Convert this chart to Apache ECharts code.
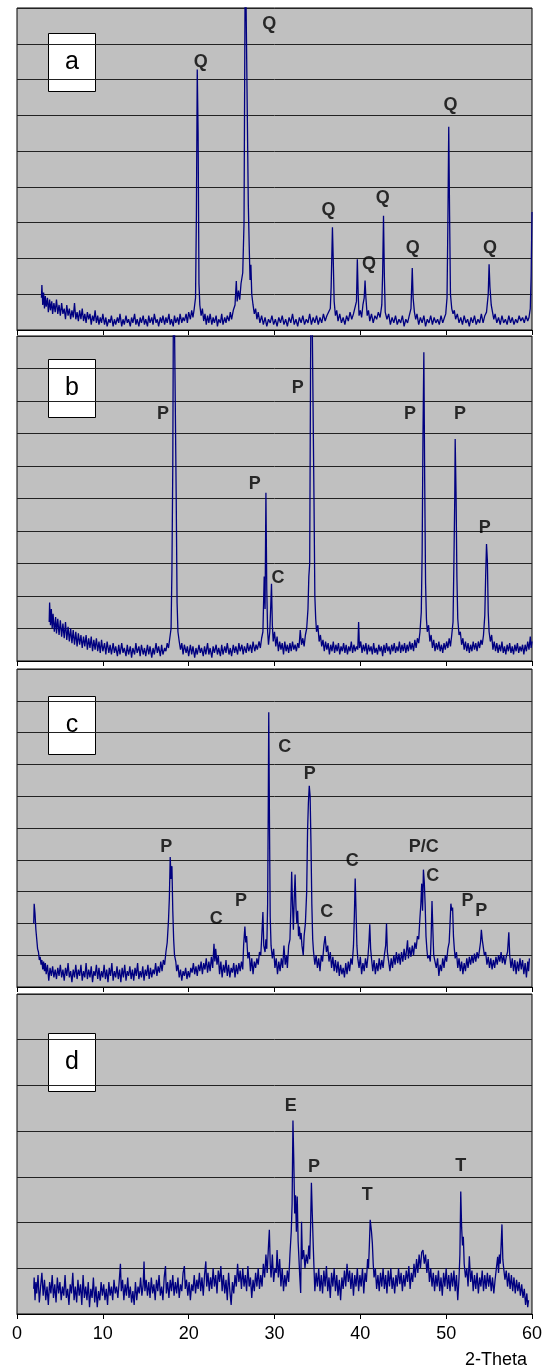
<!DOCTYPE html>
<html>
<head>
<meta charset="utf-8">
<script src="https://cdn.jsdelivr.net/npm/echarts@6/dist/echarts.min.js"></script>
<style>
  html, body { margin: 0; padding: 0; background: #fff; }
  #chart { width: 548px; height: 1370px; }
</style>
</head>
<body>
<div id="chart"></div>
<script>
// panel names and y ranges (number of grid intervals)
const panelNames = ['a', 'b', 'c', 'd'];
const panelMax = [9, 10, 10, 7];
const xTicks = [0, 10, 20, 30, 40, 50, 60];
const xTitle = '2-Theta';

// intensities, [2theta, grid units]
const aData = [[2.85,0.9],[2.9,1.26],[3.0,0.7],[3.1,1.05],[3.2,0.6],[3.3,0.95],[3.4,0.65],[3.55,0.9],[3.65,0.5],[3.8,0.85],[3.9,0.55],[4.05,0.8],[4.15,0.45],[4.3,0.75],[4.45,0.5],[4.6,0.85],[4.75,0.45],[4.9,0.7],[5.05,0.4],[5.2,0.75],[5.35,0.45],[5.5,0.6],[5.65,0.3],[5.8,0.7],[5.95,0.4],[6.1,0.6],[6.25,0.3],[6.4,0.55],[6.55,0.35],[6.7,0.75],[6.85,0.3],[7.0,0.5],[7.15,0.25],[7.3,0.55],[7.45,0.3],[7.6,0.6],[7.75,0.25],[7.9,0.45],[8.05,0.2],[8.2,0.5],[8.35,0.3],[8.5,0.45],[8.65,0.15],[8.8,0.4],[8.95,0.25],[9.1,0.55],[9.25,0.2],[9.4,0.4],[9.55,0.15],[9.7,0.35],[9.85,0.2],[10.0,0.45],[10.2,0.15],[10.35,0.35],[10.5,0.1],[10.7,0.3],[10.85,0.2],[11.0,0.4],[11.2,0.1],[11.35,0.3],[11.5,0.15],[11.7,0.35],[11.85,0.2],[12.0,0.45],[12.2,0.1],[12.35,0.3],[12.5,0.15],[12.7,0.4],[12.85,0.2],[13.0,0.3],[13.2,0.1],[13.35,0.35],[13.5,0.2],[13.7,0.45],[13.85,0.15],[14.0,0.3],[14.2,0.1],[14.35,0.35],[14.5,0.2],[14.7,0.4],[14.85,0.15],[15.0,0.3],[15.2,0.1],[15.35,0.4],[15.5,0.2],[15.7,0.35],[15.85,0.15],[16.0,0.45],[16.2,0.2],[16.35,0.3],[16.5,0.1],[16.7,0.35],[16.85,0.2],[17.0,0.4],[17.2,0.15],[17.35,0.35],[17.5,0.2],[17.7,0.45],[17.85,0.15],[18.0,0.3],[18.2,0.1],[18.35,0.4],[18.5,0.2],[18.7,0.35],[18.85,0.15],[19.0,0.45],[19.2,0.2],[19.35,0.35],[19.5,0.25],[19.7,0.45],[19.85,0.2],[20.0,0.5],[20.2,0.3],[20.35,0.55],[20.5,0.35],[20.65,0.6],[20.8,0.9],[20.9,3.2],[21.0,7.28],[21.1,5.5],[21.2,1.3],[21.3,0.7],[21.45,0.4],[21.6,0.6],[21.75,0.25],[21.9,0.45],[22.05,0.15],[22.2,0.4],[22.35,0.2],[22.5,0.45],[22.7,0.15],[22.85,0.35],[23.0,0.2],[23.2,0.4],[23.35,0.1],[23.5,0.3],[23.7,0.2],[23.85,0.45],[24.0,0.15],[24.2,0.35],[24.35,0.2],[24.5,0.4],[24.7,0.25],[24.85,0.5],[25.0,0.3],[25.2,0.55],[25.4,0.7],[25.55,1.37],[25.65,0.8],[25.8,1.1],[25.95,0.85],[26.1,1.3],[26.3,1.6],[26.45,3.0],[26.6,11],[26.8,11],[26.95,3.5],[27.05,2.38],[27.15,1.4],[27.25,1.82],[27.35,1.0],[27.5,0.7],[27.65,0.45],[27.8,0.6],[27.95,0.3],[28.1,0.5],[28.3,0.2],[28.5,0.4],[28.7,0.15],[28.9,0.35],[29.1,0.1],[29.3,0.3],[29.5,0.2],[29.7,0.4],[29.9,0.15],[30.1,0.3],[30.3,0.1],[30.5,0.35],[30.7,0.2],[30.9,0.4],[31.1,0.15],[31.3,0.3],[31.5,0.1],[31.7,0.35],[31.9,0.2],[32.1,0.45],[32.3,0.15],[32.5,0.3],[32.7,0.1],[32.9,0.35],[33.1,0.2],[33.3,0.4],[33.5,0.15],[33.7,0.3],[33.9,0.2],[34.1,0.45],[34.3,0.15],[34.5,0.35],[34.7,0.2],[34.9,0.4],[35.1,0.15],[35.3,0.35],[35.5,0.2],[35.7,0.45],[35.9,0.25],[36.1,0.4],[36.3,0.35],[36.5,0.6],[36.6,1.2],[36.75,2.87],[36.85,1.9],[36.95,0.8],[37.1,0.4],[37.25,0.55],[37.4,0.25],[37.6,0.45],[37.8,0.2],[38.0,0.35],[38.2,0.15],[38.4,0.4],[38.6,0.25],[38.8,0.5],[39.0,0.3],[39.2,0.45],[39.4,0.5],[39.55,0.8],[39.65,1.98],[39.75,1.0],[39.85,0.4],[40.0,0.55],[40.15,0.35],[40.3,0.7],[40.45,0.9],[40.55,1.38],[40.65,0.9],[40.8,0.4],[40.95,0.55],[41.1,0.25],[41.3,0.45],[41.5,0.2],[41.7,0.4],[41.9,0.3],[42.1,0.5],[42.3,0.35],[42.5,0.7],[42.6,1.6],[42.7,3.19],[42.8,1.5],[42.9,0.5],[43.1,0.3],[43.3,0.45],[43.5,0.15],[43.7,0.35],[43.9,0.2],[44.1,0.4],[44.3,0.15],[44.5,0.3],[44.7,0.2],[44.9,0.4],[45.1,0.1],[45.3,0.3],[45.5,0.2],[45.7,0.4],[45.9,0.6],[46.05,1.73],[46.15,0.9],[46.3,0.5],[46.45,0.3],[46.6,0.45],[46.8,0.15],[47.0,0.35],[47.2,0.2],[47.4,0.4],[47.6,0.1],[47.8,0.3],[48.0,0.2],[48.2,0.4],[48.4,0.15],[48.6,0.35],[48.8,0.2],[49.0,0.3],[49.2,0.15],[49.4,0.4],[49.6,0.2],[49.8,0.35],[49.95,0.45],[50.1,0.9],[50.2,3.0],[50.3,5.68],[50.4,3.2],[50.5,1.0],[50.65,0.6],[50.8,0.45],[50.95,0.55],[51.1,0.3],[51.3,0.45],[51.5,0.2],[51.7,0.35],[51.9,0.15],[52.1,0.4],[52.3,0.2],[52.5,0.3],[52.7,0.1],[52.9,0.35],[53.1,0.2],[53.3,0.4],[53.5,0.15],[53.7,0.3],[53.9,0.2],[54.1,0.45],[54.3,0.2],[54.5,0.4],[54.7,0.5],[54.9,1.0],[55.0,1.84],[55.1,1.2],[55.25,0.7],[55.4,0.5],[55.55,0.3],[55.7,0.45],[55.9,0.2],[56.1,0.35],[56.3,0.15],[56.5,0.4],[56.7,0.2],[56.9,0.3],[57.1,0.15],[57.3,0.4],[57.5,0.2],[57.7,0.35],[57.9,0.15],[58.1,0.3],[58.3,0.2],[58.5,0.4],[58.7,0.25],[58.9,0.35],[59.1,0.2],[59.3,0.4],[59.5,0.25],[59.65,0.35],[59.8,0.6],[59.9,1.5],[60.0,3.3]];

const bData = [[3.75,1.2],[3.8,1.8],[3.9,1.1],[4.0,1.6],[4.1,1.0],[4.2,1.45],[4.35,0.9],[4.5,1.35],[4.6,0.85],[4.75,1.3],[4.9,0.8],[5.05,1.25],[5.2,0.75],[5.35,1.15],[5.5,0.7],[5.65,1.2],[5.8,0.65],[5.95,1.05],[6.1,0.6],[6.25,1.0],[6.4,0.55],[6.55,0.95],[6.7,0.5],[6.85,0.9],[7.0,0.45],[7.15,0.85],[7.3,0.5],[7.45,0.8],[7.6,0.4],[7.75,0.75],[7.9,0.45],[8.05,0.8],[8.2,0.35],[8.35,0.7],[8.5,0.4],[8.65,0.75],[8.8,0.3],[8.95,0.65],[9.1,0.35],[9.25,0.7],[9.4,0.3],[9.55,0.6],[9.7,0.25],[9.85,0.65],[10.0,0.3],[10.2,0.55],[10.35,0.2],[10.5,0.6],[10.7,0.25],[10.85,0.5],[11.0,0.2],[11.2,0.55],[11.35,0.25],[11.5,0.45],[11.7,0.15],[11.85,0.5],[12.0,0.2],[12.2,0.55],[12.35,0.25],[12.5,0.4],[12.7,0.15],[12.85,0.5],[13.0,0.2],[13.2,0.45],[13.35,0.1],[13.5,0.4],[13.7,0.2],[13.85,0.55],[14.0,0.25],[14.2,0.45],[14.35,0.15],[14.5,0.5],[14.7,0.2],[14.85,0.4],[15.0,0.15],[15.2,0.5],[15.35,0.2],[15.5,0.45],[15.7,0.1],[15.85,0.4],[16.0,0.2],[16.2,0.55],[16.35,0.25],[16.5,0.45],[16.7,0.15],[16.85,0.5],[17.0,0.2],[17.2,0.4],[17.35,0.3],[17.5,0.55],[17.65,0.4],[17.8,0.7],[17.95,1.0],[18.05,2.8],[18.15,6],[18.25,13],[18.45,13],[18.55,5],[18.65,1.8],[18.75,0.9],[18.9,0.6],[19.05,0.35],[19.2,0.55],[19.35,0.2],[19.5,0.5],[19.7,0.25],[19.85,0.45],[20.0,0.15],[20.2,0.5],[20.35,0.2],[20.5,0.45],[20.7,0.1],[20.85,0.4],[21.0,0.2],[21.2,0.5],[21.35,0.25],[21.5,0.4],[21.7,0.15],[21.85,0.45],[22.0,0.2],[22.2,0.55],[22.35,0.2],[22.5,0.4],[22.7,0.1],[22.85,0.45],[23.0,0.25],[23.2,0.5],[23.35,0.2],[23.5,0.4],[23.7,0.15],[23.85,0.5],[24.0,0.2],[24.2,0.45],[24.35,0.25],[24.5,0.55],[24.7,0.2],[24.85,0.4],[25.0,0.15],[25.2,0.5],[25.35,0.25],[25.5,0.45],[25.7,0.2],[25.85,0.55],[26.0,0.3],[26.2,0.5],[26.35,0.2],[26.5,0.45],[26.7,0.25],[26.85,0.55],[27.0,0.3],[27.2,0.5],[27.35,0.25],[27.5,0.6],[27.7,0.3],[27.85,0.5],[28.0,0.35],[28.2,0.6],[28.35,0.4],[28.5,0.7],[28.65,0.9],[28.8,2.6],[28.9,1.6],[29.0,5.18],[29.1,2.2],[29.2,0.9],[29.3,0.5],[29.45,0.9],[29.55,1.6],[29.65,2.38],[29.75,1.1],[29.85,0.6],[30.0,0.9],[30.15,0.45],[30.3,0.75],[30.45,0.3],[30.6,0.6],[30.75,0.35],[30.9,0.55],[31.05,0.2],[31.2,0.6],[31.35,0.3],[31.5,0.5],[31.65,0.25],[31.8,0.55],[31.95,0.3],[32.1,0.6],[32.25,0.35],[32.4,0.5],[32.55,0.3],[32.7,0.55],[32.85,0.4],[33.0,0.95],[33.15,0.5],[33.3,0.7],[33.45,0.45],[33.6,0.8],[33.75,1.0],[33.9,1.6],[34.0,2.6],[34.1,3.0],[34.2,9],[34.3,13],[34.5,13],[34.6,5],[34.7,2.0],[34.8,1.3],[34.9,0.9],[35.05,1.1],[35.2,0.6],[35.35,0.8],[35.5,0.45],[35.65,0.65],[35.8,0.3],[35.95,0.6],[36.1,0.35],[36.25,0.55],[36.4,0.2],[36.55,0.5],[36.7,0.3],[36.85,0.6],[37.0,0.25],[37.15,0.5],[37.3,0.3],[37.45,0.55],[37.6,0.2],[37.75,0.45],[37.9,0.3],[38.05,0.55],[38.2,0.25],[38.35,0.5],[38.5,0.2],[38.65,0.45],[38.8,0.3],[38.95,0.6],[39.1,0.25],[39.25,0.5],[39.4,0.3],[39.55,0.45],[39.7,0.35],[39.8,1.2],[39.9,0.4],[40.05,0.6],[40.2,0.25],[40.35,0.5],[40.5,0.3],[40.65,0.55],[40.8,0.2],[40.95,0.5],[41.1,0.3],[41.25,0.45],[41.4,0.2],[41.55,0.55],[41.7,0.25],[41.85,0.4],[42.0,0.2],[42.15,0.5],[42.3,0.3],[42.45,0.45],[42.6,0.15],[42.75,0.5],[42.9,0.25],[43.05,0.55],[43.2,0.3],[43.35,0.45],[43.5,0.2],[43.65,0.5],[43.8,0.3],[43.95,0.55],[44.1,0.25],[44.25,0.45],[44.4,0.3],[44.55,0.6],[44.7,0.25],[44.85,0.5],[45.0,0.3],[45.15,0.55],[45.3,0.25],[45.45,0.5],[45.6,0.3],[45.75,0.6],[45.9,0.35],[46.05,0.55],[46.2,0.3],[46.35,0.65],[46.5,0.4],[46.65,0.7],[46.8,0.55],[46.95,0.9],[47.1,1.5],[47.2,3.3],[47.3,7.0],[47.4,9.5],[47.5,5.5],[47.6,2.4],[47.7,1.3],[47.8,0.9],[47.95,1.1],[48.1,0.6],[48.25,0.8],[48.4,0.4],[48.55,0.65],[48.7,0.3],[48.85,0.55],[49.0,0.35],[49.15,0.6],[49.3,0.3],[49.45,0.5],[49.6,0.25],[49.75,0.55],[49.9,0.35],[50.05,0.6],[50.2,0.4],[50.35,0.7],[50.5,0.45],[50.65,0.8],[50.8,1.2],[50.9,3.0],[51.0,5.0],[51.05,6.83],[51.15,5.2],[51.25,2.6],[51.35,1.3],[51.5,0.8],[51.65,0.9],[51.8,0.5],[51.95,0.7],[52.1,0.35],[52.25,0.6],[52.4,0.3],[52.55,0.55],[52.7,0.25],[52.85,0.5],[53.0,0.3],[53.15,0.6],[53.3,0.35],[53.45,0.55],[53.6,0.3],[53.75,0.6],[53.9,0.4],[54.05,0.65],[54.2,0.5],[54.35,0.8],[54.5,1.4],[54.6,2.6],[54.7,3.6],[54.8,3.1],[54.9,1.5],[55.0,0.9],[55.15,0.6],[55.3,0.8],[55.45,0.35],[55.6,0.6],[55.75,0.3],[55.9,0.55],[56.05,0.25],[56.2,0.5],[56.35,0.3],[56.5,0.6],[56.65,0.25],[56.8,0.45],[56.95,0.2],[57.1,0.5],[57.25,0.3],[57.4,0.55],[57.55,0.25],[57.7,0.45],[57.85,0.2],[58.0,0.5],[58.15,0.3],[58.3,0.55],[58.45,0.25],[58.6,0.45],[58.75,0.3],[58.9,0.5],[59.05,0.2],[59.2,0.5],[59.35,0.3],[59.5,0.6],[59.65,0.35],[59.8,0.75],[59.9,0.4],[60.0,0.6]];

const cData = [[1.95,2.0],[2.0,2.62],[2.1,2.3],[2.2,1.8],[2.3,1.5],[2.4,1.2],[2.5,1.1],[2.6,0.85],[2.7,0.95],[2.8,0.7],[2.9,0.85],[3.0,0.55],[3.1,0.8],[3.2,0.5],[3.3,0.75],[3.4,0.4],[3.55,0.7],[3.7,0.2],[3.85,0.6],[4.0,0.35],[4.15,0.65],[4.3,0.3],[4.45,0.55],[4.6,0.25],[4.75,0.6],[4.9,0.35],[5.05,0.7],[5.2,0.3],[5.35,0.55],[5.5,0.2],[5.65,0.6],[5.8,0.35],[5.95,0.75],[6.1,0.3],[6.25,0.5],[6.4,0.15],[6.55,0.55],[6.7,0.3],[6.85,0.7],[7.0,0.25],[7.15,0.55],[7.3,0.35],[7.45,0.7],[7.6,0.2],[7.75,0.5],[7.9,0.3],[8.05,0.75],[8.2,0.25],[8.35,0.55],[8.5,0.3],[8.65,0.65],[8.8,0.15],[8.95,0.5],[9.1,0.35],[9.25,0.7],[9.4,0.25],[9.55,0.6],[9.7,0.2],[9.85,0.5],[10.0,0.3],[10.15,0.7],[10.3,0.25],[10.45,0.55],[10.6,0.15],[10.75,0.6],[10.9,0.35],[11.05,0.75],[11.2,0.2],[11.35,0.5],[11.5,0.3],[11.65,0.65],[11.8,0.25],[11.95,0.55],[12.1,0.15],[12.25,0.6],[12.4,0.3],[12.55,0.7],[12.7,0.2],[12.85,0.5],[13.0,0.35],[13.15,0.65],[13.3,0.25],[13.45,0.55],[13.6,0.2],[13.75,0.6],[13.9,0.35],[14.05,0.75],[14.2,0.25],[14.35,0.5],[14.5,0.3],[14.65,0.65],[14.8,0.2],[14.95,0.55],[15.1,0.35],[15.25,0.7],[15.4,0.25],[15.55,0.6],[15.7,0.3],[15.85,0.55],[16.0,0.4],[16.15,0.75],[16.3,0.35],[16.45,0.65],[16.6,0.45],[16.75,0.8],[16.9,0.5],[17.05,0.85],[17.2,0.7],[17.35,1.1],[17.5,1.4],[17.65,2.1],[17.75,2.8],[17.85,4.09],[17.95,3.4],[18.05,3.8],[18.15,2.4],[18.25,1.5],[18.35,1.0],[18.5,0.8],[18.6,0.5],[18.75,0.7],[18.9,0.3],[19.05,0.55],[19.2,0.2],[19.35,0.5],[19.5,0.35],[19.65,0.6],[19.8,0.25],[19.95,0.5],[20.1,0.3],[20.25,0.6],[20.4,0.45],[20.55,0.75],[20.7,0.4],[20.85,0.65],[21.0,0.35],[21.15,0.7],[21.3,0.5],[21.45,0.8],[21.6,0.4],[21.75,0.75],[21.9,0.55],[22.05,0.9],[22.2,0.45],[22.35,0.8],[22.5,0.5],[22.65,0.95],[22.8,0.6],[22.95,1.36],[23.05,0.8],[23.15,1.2],[23.3,0.7],[23.45,1.0],[23.6,0.4],[23.75,0.8],[23.9,0.3],[24.05,0.7],[24.2,0.45],[24.35,0.85],[24.5,0.35],[24.65,0.7],[24.8,0.3],[24.95,0.6],[25.1,0.45],[25.25,0.75],[25.4,0.3],[25.55,0.7],[25.7,0.4],[25.85,0.75],[26.0,0.5],[26.15,0.8],[26.3,0.55],[26.4,1.3],[26.55,1.9],[26.65,1.4],[26.75,1.6],[26.9,0.9],[27.05,1.1],[27.2,0.5],[27.35,0.9],[27.5,0.4],[27.65,0.8],[27.8,0.6],[27.95,0.9],[28.1,0.7],[28.25,1.1],[28.4,1.0],[28.5,1.5],[28.65,2.36],[28.75,1.3],[28.9,1.1],[29.0,1.5],[29.1,1.2],[29.2,2.6],[29.27,5.5],[29.33,8.64],[29.42,5.0],[29.5,2.2],[29.6,1.3],[29.75,0.9],[29.9,1.2],[30.05,0.6],[30.2,0.9],[30.35,0.4],[30.5,0.8],[30.65,0.5],[30.8,0.9],[30.95,0.6],[31.1,1.3],[31.25,0.7],[31.4,1.0],[31.5,0.6],[31.65,1.3],[31.8,1.5],[31.9,2.4],[32.0,3.62],[32.1,2.6],[32.2,1.8],[32.3,2.8],[32.4,3.54],[32.5,2.5],[32.6,2.0],[32.7,2.4],[32.8,1.6],[32.9,1.9],[33.0,1.5],[33.1,1.7],[33.2,1.3],[33.35,1.0],[33.45,1.6],[33.6,2.0],[33.75,3.0],[33.85,4.9],[33.95,5.8],[34.05,6.33],[34.15,6.0],[34.25,4.5],[34.35,2.6],[34.45,1.5],[34.55,1.1],[34.7,0.7],[34.85,1.0],[35.0,0.6],[35.15,0.9],[35.3,0.5],[35.45,1.0],[35.6,0.8],[35.75,1.3],[35.9,1.6],[36.05,1.1],[36.2,1.3],[36.35,0.8],[36.5,1.1],[36.65,0.6],[36.8,0.95],[36.95,0.5],[37.1,0.85],[37.25,0.45],[37.4,0.8],[37.55,0.35],[37.7,0.7],[37.85,0.4],[38.0,0.6],[38.15,0.3],[38.3,0.75],[38.45,0.4],[38.6,0.8],[38.75,0.5],[38.9,0.9],[39.05,0.7],[39.2,1.3],[39.3,2.2],[39.4,3.41],[39.5,2.4],[39.6,1.3],[39.7,0.9],[39.85,0.6],[40.0,0.95],[40.15,0.4],[40.3,0.75],[40.45,0.5],[40.6,0.9],[40.75,0.6],[40.9,1.0],[41.0,1.4],[41.1,1.97],[41.2,1.2],[41.3,0.9],[41.45,0.5],[41.6,0.85],[41.75,0.4],[41.9,0.75],[42.05,0.5],[42.2,0.9],[42.35,0.55],[42.5,0.85],[42.65,0.6],[42.8,1.0],[42.95,1.3],[43.05,2.0],[43.15,1.1],[43.3,0.8],[43.45,0.5],[43.6,0.9],[43.75,0.6],[43.9,1.0],[44.05,0.7],[44.2,1.1],[44.35,0.75],[44.5,1.05],[44.65,0.7],[44.8,1.1],[44.95,0.8],[45.1,1.2],[45.25,0.85],[45.4,1.2],[45.5,1.47],[45.6,0.9],[45.75,1.25],[45.9,0.95],[46.05,1.3],[46.2,1.0],[46.35,1.4],[46.5,1.2],[46.65,1.6],[46.8,1.5],[46.95,2.2],[47.05,2.6],[47.15,3.25],[47.25,2.4],[47.35,3.69],[47.45,3.3],[47.55,2.6],[47.65,1.6],[47.75,1.2],[47.85,0.9],[48.0,1.0],[48.15,0.8],[48.25,1.6],[48.35,2.7],[48.45,1.8],[48.55,1.0],[48.7,0.8],[48.85,0.6],[49.0,0.9],[49.15,0.35],[49.3,0.7],[49.45,0.5],[49.6,0.9],[49.75,0.6],[49.9,1.0],[50.05,0.8],[50.2,1.2],[50.35,1.4],[50.45,2.0],[50.55,2.62],[50.65,2.4],[50.75,2.5],[50.85,1.6],[50.95,1.2],[51.05,0.9],[51.2,1.1],[51.35,0.6],[51.5,0.9],[51.65,0.5],[51.8,0.8],[51.95,0.4],[52.1,0.75],[52.25,0.5],[52.4,0.9],[52.55,0.6],[52.7,0.95],[52.85,0.7],[53.0,1.0],[53.15,0.75],[53.3,1.05],[53.45,0.8],[53.6,1.1],[53.75,0.9],[53.9,1.2],[54.0,1.4],[54.1,1.8],[54.2,1.5],[54.3,1.3],[54.45,1.0],[54.6,1.1],[54.75,0.7],[54.9,0.95],[55.05,0.6],[55.2,0.9],[55.35,0.55],[55.5,0.85],[55.65,0.6],[55.8,0.95],[55.95,0.7],[56.1,1.0],[56.25,0.8],[56.4,1.1],[56.55,0.75],[56.7,1.0],[56.85,0.7],[57.0,0.95],[57.15,1.1],[57.3,1.72],[57.4,1.0],[57.55,0.6],[57.7,0.9],[57.85,0.5],[58.0,0.85],[58.15,0.4],[58.3,0.8],[58.45,0.5],[58.6,0.9],[58.75,0.55],[58.9,0.85],[59.05,0.4],[59.2,0.75],[59.35,0.3],[59.5,0.8],[59.6,0.5],[59.7,0.9]];

const dData = [[1.95,0.55],[2.0,0.8],[2.1,0.3],[2.2,0.7],[2.3,0.45],[2.45,0.85],[2.6,0.25],[2.75,0.6],[2.9,0.9],[3.05,0.4],[3.2,0.75],[3.35,0.3],[3.5,0.6],[3.65,0.2],[3.8,0.7],[3.95,0.45],[4.1,0.85],[4.25,0.35],[4.4,0.65],[4.55,0.25],[4.7,0.8],[4.85,0.45],[5.0,0.7],[5.15,0.3],[5.3,0.6],[5.45,0.4],[5.6,0.85],[5.75,0.35],[5.9,0.55],[6.05,0.2],[6.2,0.65],[6.35,0.45],[6.5,0.9],[6.65,0.3],[6.8,0.6],[6.95,0.25],[7.1,0.75],[7.25,0.4],[7.4,0.65],[7.55,0.2],[7.7,0.85],[7.85,0.35],[8.0,0.6],[8.15,0.3],[8.3,0.7],[8.45,0.15],[8.6,0.55],[8.75,0.35],[8.9,0.8],[9.05,0.25],[9.2,0.6],[9.35,0.15],[9.5,0.5],[9.65,0.3],[9.8,0.7],[9.95,0.4],[10.1,0.65],[10.25,0.3],[10.4,0.55],[10.55,0.2],[10.7,0.7],[10.85,0.4],[11.0,0.6],[11.15,0.3],[11.3,0.75],[11.45,0.45],[11.6,0.6],[11.75,0.35],[11.9,0.7],[12.05,1.1],[12.15,0.5],[12.3,0.75],[12.45,0.3],[12.6,0.65],[12.75,0.4],[12.9,0.8],[13.05,0.35],[13.2,0.6],[13.35,0.25],[13.5,0.5],[13.65,0.2],[13.8,0.7],[13.95,0.3],[14.1,0.6],[14.25,0.45],[14.4,0.8],[14.55,0.4],[14.7,0.65],[14.8,1.15],[14.9,0.5],[15.05,0.75],[15.2,0.4],[15.35,0.7],[15.5,0.35],[15.65,0.8],[15.8,0.45],[15.95,0.65],[16.1,0.3],[16.25,0.75],[16.4,0.5],[16.55,0.85],[16.7,0.4],[16.85,0.6],[17.0,0.3],[17.15,0.8],[17.3,1.05],[17.4,0.45],[17.55,0.7],[17.7,0.35],[17.85,0.75],[18.0,0.5],[18.15,0.85],[18.3,0.4],[18.45,0.7],[18.6,0.45],[18.75,0.8],[18.9,0.35],[19.05,0.65],[19.2,0.5],[19.35,0.9],[19.5,1.05],[19.6,0.55],[19.75,0.75],[19.9,0.4],[20.05,0.7],[20.2,0.3],[20.35,0.65],[20.5,0.5],[20.65,0.85],[20.8,0.45],[20.95,0.75],[21.1,0.55],[21.25,0.9],[21.4,0.5],[21.55,0.8],[21.7,0.4],[21.85,0.85],[22.0,1.15],[22.1,0.6],[22.25,0.9],[22.4,0.5],[22.55,0.8],[22.7,0.55],[22.85,1.0],[23.0,0.6],[23.15,0.85],[23.3,0.45],[23.45,0.95],[23.6,0.7],[23.75,1.05],[23.9,0.5],[24.05,0.85],[24.2,0.45],[24.35,0.75],[24.5,0.3],[24.65,0.9],[24.8,0.5],[24.95,0.2],[25.1,0.7],[25.25,0.45],[25.4,0.85],[25.55,0.6],[25.7,1.1],[25.85,0.7],[26.0,0.95],[26.15,0.55],[26.3,1.0],[26.45,0.6],[26.6,0.85],[26.75,0.5],[26.9,1.05],[27.05,0.6],[27.2,0.8],[27.35,0.35],[27.5,0.75],[27.65,0.5],[27.8,0.9],[27.95,0.6],[28.1,1.0],[28.25,0.55],[28.4,0.85],[28.55,0.6],[28.7,1.1],[28.85,0.8],[29.0,1.3],[29.15,0.9],[29.3,1.5],[29.4,1.84],[29.5,1.1],[29.6,0.8],[29.75,1.3],[29.9,0.7],[30.05,1.0],[30.2,0.9],[30.3,1.4],[30.45,0.8],[30.6,1.2],[30.75,0.6],[30.9,1.0],[31.05,0.5],[31.2,0.85],[31.35,0.6],[31.5,0.95],[31.65,0.7],[31.8,1.3],[31.95,1.8],[32.05,2.4],[32.15,4.23],[32.25,3.33],[32.35,2.2],[32.45,2.6],[32.55,1.8],[32.65,2.57],[32.75,1.6],[32.85,1.2],[32.95,0.8],[33.05,0.46],[33.15,2.02],[33.25,1.2],[33.4,1.4],[33.55,1.0],[33.7,1.3],[33.85,1.1],[34.0,1.5],[34.1,1.2],[34.2,1.9],[34.3,2.87],[34.4,2.2],[34.5,1.58],[34.6,1.0],[34.7,0.5],[34.85,0.9],[35.0,0.6],[35.15,1.0],[35.3,0.5],[35.45,0.85],[35.6,0.45],[35.75,0.95],[35.9,0.6],[36.05,1.05],[36.2,0.5],[36.35,0.8],[36.5,0.35],[36.65,0.9],[36.8,0.6],[36.95,1.0],[37.1,0.5],[37.25,0.85],[37.4,0.4],[37.55,0.75],[37.7,0.3],[37.85,0.8],[38.0,0.55],[38.15,0.95],[38.3,0.6],[38.45,1.1],[38.6,0.7],[38.75,0.95],[38.9,0.55],[39.05,0.9],[39.2,0.4],[39.35,0.85],[39.5,0.6],[39.65,1.0],[39.8,0.5],[39.95,0.85],[40.1,0.6],[40.25,1.0],[40.4,0.45],[40.55,0.9],[40.7,0.7],[40.85,1.2],[40.95,1.0],[41.05,1.5],[41.15,2.06],[41.3,1.8],[41.4,1.55],[41.5,1.1],[41.6,0.8],[41.75,1.0],[41.9,0.55],[42.05,0.85],[42.2,0.5],[42.35,0.9],[42.5,0.6],[42.65,1.0],[42.8,0.55],[42.95,0.85],[43.1,0.45],[43.25,0.95],[43.4,0.6],[43.55,1.0],[43.7,0.55],[43.85,0.8],[44.0,0.45],[44.15,0.85],[44.3,0.6],[44.45,1.0],[44.6,0.65],[44.75,0.9],[44.9,0.5],[45.05,0.85],[45.2,0.6],[45.35,0.95],[45.5,0.7],[45.65,1.05],[45.8,0.55],[45.95,0.9],[46.1,0.7],[46.25,1.1],[46.4,0.8],[46.55,1.2],[46.7,0.9],[46.85,1.3],[47.0,1.0],[47.15,1.35],[47.3,1.4],[47.45,1.1],[47.6,1.3],[47.75,0.9],[47.9,1.2],[48.05,0.7],[48.2,1.0],[48.35,0.6],[48.5,0.9],[48.65,0.5],[48.8,0.85],[48.95,0.6],[49.1,0.95],[49.25,0.5],[49.4,0.8],[49.55,0.4],[49.7,0.9],[49.85,0.6],[50.0,1.0],[50.15,0.55],[50.3,0.85],[50.45,0.5],[50.6,0.9],[50.75,0.6],[50.9,0.95],[51.05,0.5],[51.2,0.85],[51.35,0.3],[51.5,0.8],[51.6,1.3],[51.7,2.68],[51.8,1.9],[51.9,1.5],[52.0,1.69],[52.1,1.1],[52.25,0.8],[52.4,1.0],[52.55,0.6],[52.7,1.26],[52.85,0.7],[53.0,0.95],[53.15,0.5],[53.3,0.85],[53.45,0.55],[53.6,0.9],[53.75,0.45],[53.9,0.8],[54.05,0.6],[54.2,0.95],[54.35,0.5],[54.5,0.85],[54.65,0.55],[54.8,0.9],[54.95,0.6],[55.1,0.85],[55.25,0.5],[55.4,0.8],[55.55,0.45],[55.7,0.75],[55.85,1.0],[56.0,1.25],[56.1,0.9],[56.2,1.3],[56.3,1.1],[56.4,1.5],[56.5,1.96],[56.6,1.2],[56.7,1.0],[56.85,0.75],[57.0,0.95],[57.15,0.6],[57.3,0.9],[57.45,0.55],[57.6,0.85],[57.75,0.5],[57.9,0.8],[58.05,0.45],[58.2,0.75],[58.35,0.5],[58.5,0.7],[58.65,0.4],[58.8,0.65],[58.95,0.35],[59.1,0.55],[59.25,0.2],[59.4,0.45],[59.5,0.15],[59.6,0.3]];

// phase labels: [2theta, height, text]
const aLabels = [[21.4,7.5,'Q'],[29.4,8.55,'Q'],[36.3,3.35,'Q'],[41.0,1.85,'Q'],[42.6,3.7,'Q'],[46.1,2.3,'Q'],[50.5,6.3,'Q'],[55.1,2.3,'Q']];
const bLabels = [[17.0,7.6,'P'],[32.7,8.4,'P'],[27.7,5.45,'P'],[30.4,2.55,'C'],[45.8,7.6,'P'],[51.6,7.6,'P'],[54.5,4.1,'P']];
const cLabels = [[17.4,4.4,'P'],[23.2,2.15,'C'],[26.1,2.7,'P'],[31.2,7.55,'C'],[34.1,6.7,'P'],[36.1,2.35,'C'],[39.05,3.95,'C'],[47.4,4.4,'P/C'],[48.45,3.5,'C'],[52.5,2.7,'P'],[54.1,2.4,'P']];
const dLabels = [[31.9,4.55,'E'],[34.6,3.22,'P'],[40.8,2.6,'T'],[51.7,3.24,'T']];

const panelData = [aData, bData, cData, dData];
const panelLabels = [aLabels, bLabels, cLabels, dLabels];

// layout (pixels)
const gridTops = [8, 336, 669, 994];
const gridHeights = [322, 325, 318, 320];
const boxTops = [33, 359, 696, 1033];

const chart = echarts.init(document.getElementById('chart'));

const grids = [], xAxes = [], yAxes = [], series = [], graphics = [];
for (let i = 0; i < 4; i++) {
    grids.push({
        left: 17, right: 16, top: gridTops[i], height: gridHeights[i],
        show: true, backgroundColor: '#c0c0c0', borderColor: '#000', borderWidth: 1
    });
    xAxes.push({
        type: 'value', gridIndex: i, min: 0, max: 60, interval: 10,
        axisLine: {show: true, lineStyle: {color: '#000', width: 1}},
        axisTick: {show: true, length: 5, lineStyle: {color: '#000'}},
        axisLabel: {
            show: i === 3, fontSize: 18, color: '#000', margin: 11,
            fontFamily: 'Liberation Sans', showMinLabel: true, showMaxLabel: true
        },
        splitLine: {show: false}
    });
    yAxes.push({
        type: 'value', gridIndex: i, min: 0, max: panelMax[i], interval: 1,
        axisLine: {show: false}, axisTick: {show: false}, axisLabel: {show: false},
        splitLine: {show: true, lineStyle: {color: '#222', width: 1}}
    });
    series.push({
        type: 'line', xAxisIndex: i, yAxisIndex: i,
        data: panelData[i], symbol: 'none', showSymbol: false,
        clip: true,
        lineStyle: {color: '#000080', width: 1.3}
    });
    series.push({
        type: 'scatter', xAxisIndex: i, yAxisIndex: i, silent: true,
        symbolSize: 1, itemStyle: {color: 'rgba(0,0,0,0)'},
        data: panelLabels[i].map(l => ({value: [l[0], l[1]], name: l[2]})),
        label: {
            show: true, position: 'inside', formatter: '{b}',
            fontFamily: 'Liberation Sans', fontWeight: 'bold', fontSize: 18, color: '#000'
        }
    });
    graphics.push({
        type: 'group', left: 48, top: boxTops[i],
        children: [
            {type: 'rect', shape: {x: 0, y: 0, width: 47, height: 58},
             style: {fill: '#fff', stroke: '#000', lineWidth: 1}},
            {type: 'text', x: 23.5, y: 29,
             style: {text: panelNames[i], fill: '#000', font: '25px "Liberation Sans"',
                     textAlign: 'center', textVerticalAlign: 'middle'}}
        ]
    });
}
graphics.push({
    type: 'text', right: 21, top: 1351,
    style: {text: xTitle, fill: '#000', font: '18px "Liberation Sans"'}
});

chart.setOption({
    animation: false,
    grid: grids,
    xAxis: xAxes,
    yAxis: yAxes,
    series: series,
    graphic: graphics
});
</script>
</body>
</html>
